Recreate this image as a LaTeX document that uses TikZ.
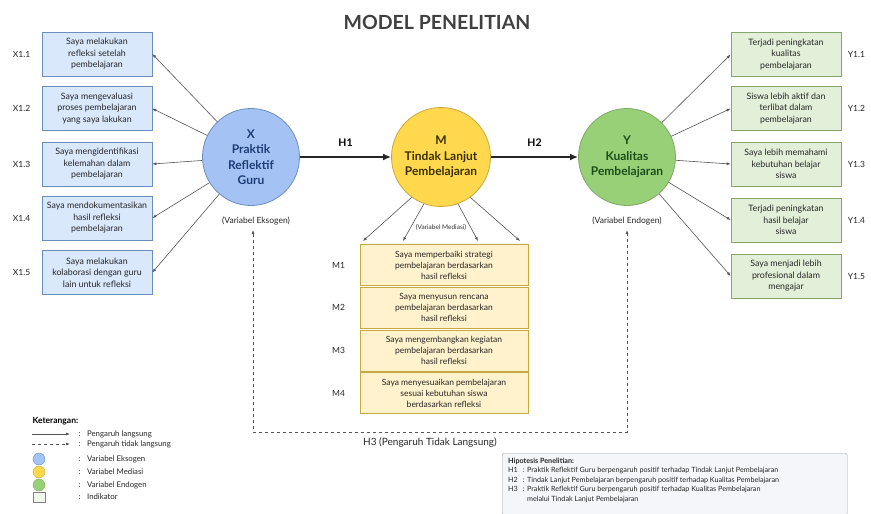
\documentclass[tikz,border=0pt]{standalone}
\usepackage{fontspec}
\setmainfont{Lato}
\usetikzlibrary{arrows.meta}
\definecolor{bfill}{HTML}{DAE8FC}\definecolor{bdraw}{HTML}{6C8EBF}
\definecolor{bcirc}{HTML}{A4C2F4}\definecolor{btext}{HTML}{1C3D75}
\definecolor{yfill}{HTML}{FFF2CC}\definecolor{ydraw}{HTML}{C9A93E}
\definecolor{ycirc}{HTML}{FFD84D}\definecolor{ytext}{HTML}{3A2E00}
\definecolor{gfill}{HTML}{E2F0D9}\definecolor{gdraw}{HTML}{82A86A}
\definecolor{gcirc}{HTML}{97D077}\definecolor{gtext}{HTML}{1B4D1B}
\definecolor{lgray}{HTML}{555555}
\definecolor{hfill}{HTML}{F4F6F9}
\tikzset{
 ind/.style={draw=#1, line width=0.7pt, minimum width=110pt, minimum height=44pt, align=center, font=\fontsize{8.8}{11.5}\selectfont, text=black!85, inner sep=1pt},
 xbox/.style={ind=bdraw, fill=bfill},
 ybox/.style={ind=gdraw, fill=gfill},
 mbox/.style={ind=ydraw, fill=yfill, minimum width=168pt, minimum height=41pt, font=\fontsize{8.5}{11}\selectfont},
 lat/.style={circle, minimum size=97pt, line width=0.8pt, align=center, font=\bfseries\fontsize{12}{15.5}\selectfont},
 lbl/.style={font=\fontsize{8.5}{10}\selectfont, text=black!85},
 conn/.style={draw=lgray, line width=0.6pt, -{Latex[length=4pt,width=3pt]}},
 main/.style={draw=black!85, line width=1.6pt, -{Latex[length=8pt,width=7pt]}},
 ind3/.style={draw=lgray, line width=0.6pt, dashed, {Latex[length=4pt,width=3pt]}-{Latex[length=4pt,width=3pt]}},
 small/.style={font=\fontsize{7.8}{9}\selectfont, text=black!85},
}
\begin{document}
\begin{tikzpicture}[x=1pt,y=-1pt]
\useasboundingbox (0,0) rectangle (871,514);
\node[font=\bfseries\fontsize{19.5}{22}\selectfont, text=black!75] (title) at (437,22) {MODEL PENELITIAN};

% latent variables
\node[lat, fill=bcirc, draw=bdraw, text=btext] (X) at (251,157) {X\\Praktik\\Reflektif\\Guru};
\node[lat, fill=ycirc, draw=ydraw, text=ytext, minimum size=99pt] (M) at (441,157) {M\\Tindak Lanjut\\Pembelajaran};
\node[lat, fill=gcirc, draw=gdraw, text=gtext] (Y) at (627,157) {Y\\Kualitas\\Pembelajaran};
\node[lbl] (xv) at (256,221) {(Variabel Eksogen)};
\node[lbl] (yv) at (627,221) {(Variabel Endogen)};
\node[font=\fontsize{6.5}{7}\selectfont, text=black!80] (mv) at (441,227) {(Variabel Mediasi)};

% X indicators
\node[xbox] (x1) at (97,54) {Saya melakukan\\refleksi setelah\\pembelajaran};
\node[xbox] (x2) at (97,108.5) {Saya mengevaluasi\\proses pembelajaran\\yang saya lakukan};
\node[xbox] (x3) at (97,164) {Saya mengidentifikasi\\kelemahan dalam\\pembelajaran};
\node[xbox] (x4) at (97,218) {Saya mendokumentasikan\\hasil refleksi\\pembelajaran};
\node[xbox] (x5) at (97,272.5) {Saya melakukan\\kolaborasi dengan guru\\lain untuk refleksi};
\foreach \i in {1,...,5}{\node[lbl] (xl\i) at ([xshift=-20pt]x\i.west) {X1.\i};}

% Y indicators
\node[ybox] (y1) at (786,54.5) {Terjadi peningkatan\\kualitas\\pembelajaran};
\node[ybox] (y2) at (786,108.5) {Siswa lebih aktif dan\\terlibat dalam\\pembelajaran};
\node[ybox] (y3) at (786,164) {Saya lebih memahami\\kebutuhan belajar\\siswa};
\node[ybox] (y4) at (786,220) {Terjadi peningkatan\\hasil belajar\\siswa};
\node[ybox] (y5) at (786,276) {Saya menjadi lebih\\profesional dalam\\mengajar};
\foreach \i in {1,...,5}{\node[lbl] (yl\i) at ([xshift=15pt]y\i.east) {Y1.\i};}

% M indicators
\node[mbox] (m1) at (444,265) {Saya memperbaiki strategi\\pembelajaran berdasarkan\\hasil refleksi};
\node[mbox] (m2) at (444,307.5) {Saya menyusun rencana\\pembelajaran berdasarkan\\hasil refleksi};
\node[mbox] (m3) at (444,350.5) {Saya mengembangkan kegiatan\\pembelajaran berdasarkan\\hasil refleksi};
\node[mbox] (m4) at (444,393) {Saya menyesuaikan pembelajaran\\sesuai kebutuhan siswa\\berdasarkan refleksi};
\foreach \i in {1,...,4}{\node[lbl] (ml\i) at ([xshift=-21pt]m\i.west) {M\i};}

% connectors
\foreach \i in {1,...,5}{\draw[conn] (X) -- (x\i.east); \draw[conn] (Y) -- (y\i.west);}
\draw[main] (X) -- (M) node[midway, above=6pt, font=\bfseries\fontsize{10.5}{12}\selectfont, text=black] (h1) {H1};
\draw[main] (M) -- (Y) node[midway, above=6pt, font=\bfseries\fontsize{10.5}{12}\selectfont, text=black] (h2) {H2};
\coordinate (t1) at (363,241);
\coordinate (t2) at (403,241);
\coordinate (t3) at (478,241);
\coordinate (t4) at (520,241);
\draw[conn] (M.234) -- (t1);
\draw[conn] (M.250) -- (t2);
\draw[conn] (M.290) -- (t3);
\draw[conn] (M.306) -- (t4);

% indirect effect
\coordinate (d1) at (253,230);
\coordinate (d2) at (627,230);
\draw[ind3] (d1) -- (253,432) -- (627,432) -- (d2);
\node[lbl, font=\fontsize{10}{11}\selectfont] (h3) at (430,443) {H3 (Pengaruh Tidak Langsung)};

% legend
\node[font=\bfseries\fontsize{8.5}{9}\selectfont, anchor=west] (ket) at (29,421) {Keterangan:};
\coordinate (la1) at (32,434); \coordinate (lb1) at (70,434);
\coordinate (la2) at (32,444); \coordinate (lb2) at (70,444);
\draw[conn] (la1) -- (lb1);
\draw[conn, dashed] (la2) -- (lb2);
\node[small, anchor=west] (lt1) at (75,434) {:\hspace{4pt} Pengaruh langsung};
\node[small, anchor=west] (lt2) at (75,444) {:\hspace{4pt} Pengaruh tidak langsung};
\node[circle, fill=bcirc, draw=bdraw, minimum size=12pt, inner sep=0pt] (c1) at (39,459) {};
\node[circle, fill=ycirc, draw=ydraw, minimum size=12pt, inner sep=0pt] (c2) at (39,472) {};
\node[circle, fill=gcirc, draw=gdraw, minimum size=12pt, inner sep=0pt] (c3) at (39,485) {};
\node[fill=gfill!50, draw=gray, minimum width=12pt, minimum height=10pt, inner sep=0pt] (c4) at (39,497) {};
\node[small, anchor=west] (lt3) at (75,459) {:\hspace{4pt} Variabel Eksogen};
\node[small, anchor=west] (lt4) at (75,472) {:\hspace{4pt} Variabel Mediasi};
\node[small, anchor=west] (lt5) at (75,485) {:\hspace{4pt} Variabel Endogen};
\node[small, anchor=west] (lt6) at (75,497) {:\hspace{4pt} Indikator};

% hypothesis box
\node[draw=gray!70, fill=hfill, rounded corners=2pt, minimum width=345pt, minimum height=62pt, anchor=north west] (hyp) at (502,453) {};
\node[anchor=north west, align=left, font=\fontsize{7.2}{9.4}\selectfont, text=black!85, inner sep=0pt] (hyptext) at (508,458) {%
\textbf{Hipotesis Penelitian:}\\
H1\hspace{5pt}: Praktik Reflektif Guru berpengaruh positif terhadap Tindak Lanjut Pembelajaran\\
H2\hspace{5pt}: Tindak Lanjut Pembelajaran berpengaruh positif terhadap Kualitas Pembelajaran\\
H3\hspace{5pt}: Praktik Reflektif Guru berpengaruh positif terhadap Kualitas Pembelajaran\\
\hspace{19pt}melalui Tindak Lanjut Pembelajaran};
\end{tikzpicture}
\end{document}
